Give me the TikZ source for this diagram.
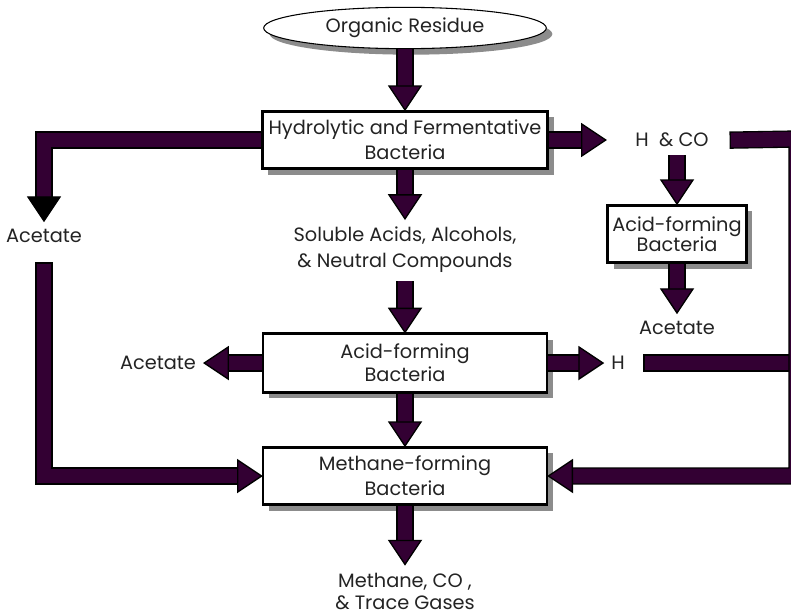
\documentclass[tikz,border=0pt]{standalone}
\usepackage{fontspec}
\setmainfont{Poppins}
\usetikzlibrary{arrows.meta, shapes.geometric, shadows, positioning, calc}

\definecolor{plum}{RGB}{51,0,51}
\definecolor{ink}{RGB}{35,35,35}

% fat arrow head, pointing from #2 to #3
\newcommand{\fathead}[3][plum]{%
	\draw[head, fill=#1] (#3) -- ($(#3)!18pt!(#2)!12pt!90:(#3)$)
		-- ($(#3)!18pt!(#2)!12pt!-90:(#3)$) -- cycle;}
% fat arrow: shaft and head
\newcommand{\fatflow}[3][plum]{%
	\draw[shaft] (#2) -- ($(#3)!17pt!(#2)$);
	\fathead[#1]{#2}{#3}}

\begin{document}
\begin{tikzpicture}[x=0.75pt, y=-0.75pt]
	\tikzstyle{shade} = [drop shadow={shadow xshift=4.5pt, shadow yshift=-4.5pt, fill=gray!90, opacity=1}]
	\tikzstyle{stage} = [draw, rectangle, line width=2pt, fill=white, text=ink, align=center,
		minimum height=43pt, font=\fontsize{14.5}{17.5}\selectfont, shade]
	\tikzstyle{lbl} = [inner sep=6pt, text=ink, align=center, font=\fontsize{14.5}{16.5}\selectfont]
	\tikzstyle{shaft} = [draw=black, line width=1pt, double=plum, double distance=11pt]
	\tikzstyle{head} = [draw=black, line width=1pt, line join=miter]
	\useasboundingbox (0,0) rectangle (791,614);
	
	\node[draw, ellipse, line width=.8pt, fill=white, minimum width=212pt, minimum height=31pt,
		text=ink, font=\fontsize{14.5}{17}\selectfont, shade] (org) at (405,28) {Organic Residue};
	\node[stage, minimum width=214pt, font=\fontsize{14.5}{19}\selectfont] (hyd) at (405,140) {Hydrolytic and Fermentative\\Bacteria};
	\node[lbl, font=\fontsize{14.5}{19.5}\selectfont] (sol) at (405,250) {Soluble Acids, Alcohols,\\\& Neutral Compounds};
	\node[stage, minimum width=213pt, minimum height=44pt] (acidm) at (405,363) {Acid-forming\\Bacteria};
	\node[stage, minimum width=213pt, font=\fontsize{14.5}{19}\selectfont] (meth) at (405,476) {Methane-forming\\Bacteria};
	\node[lbl] (gas) at (405,591) {Methane, CO\ ,\\\& Trace Gases};
	\node[lbl] (acl) at (44,236) {Acetate};
	\node[lbl] (acm) at (158,363) {Acetate};
	\node[lbl] (hm) at (618,363) {H};
	\node[lbl, inner xsep=22pt] (hco) at (672,140) {H\ \ \& CO};
	\node[stage, minimum width=104pt, font=\fontsize{14.5}{15}\selectfont] (acidr) at (677,234) {Acid-forming\\Bacteria};
	\node[lbl] (acr) at (677,328) {Acetate};
	
	\coordinate (hcos) at (hco.south -| acidr.north);
	\coordinate (lt) at (acl.north |- hyd.west);
	\coordinate (lb0) at ($(acl.south)+(0,20)$);
	\coordinate (lb) at (acl.south |- meth.west);
	\coordinate (rt) at (797,139);
	\coordinate (rm) at (rt |- hm);
	\coordinate (rb) at (rt |- meth.east);
	\coordinate (hm0) at ($(hm.east)+(19,0)$);
	
	% main column
	\fatflow{org.south}{hyd.north}
	\fatflow{hyd.south}{sol.north}
	\fatflow{sol.south}{acidm.north}
	\fatflow{acidm.south}{meth.north}
	\fatflow{meth.south}{gas.north}
	% side branches
	\fatflow{hyd.east}{hco.west}
	\fatflow{hcos}{acidr.north}
	\fatflow{acidr.south}{acr.north}
	\fatflow{acidm.west}{acm.east}
	\fatflow{acidm.east}{hm.west}
	
	% left side
	\draw[shaft, line join=miter] (hyd.west) -- (lt) -- ($(acl.north)!17pt!(lt)$);
	\fathead[black]{lt}{acl.north}
	\draw[shaft, line cap=rect, line join=miter] (lb0) -- (lb) -- ($(meth.west)!17pt!(lb)$);
	\fathead{lb}{meth.west}
	
	% right side
	\draw[shaft, line cap=rect] (hm0) -- (rm);
	\draw[shaft, line cap=rect, line join=miter] (hco.east) -- (rt) -- (rb) -- ($(meth.east)!17pt!(rb)$);
	\fathead{rb}{meth.east}
\end{tikzpicture}
\end{document}
